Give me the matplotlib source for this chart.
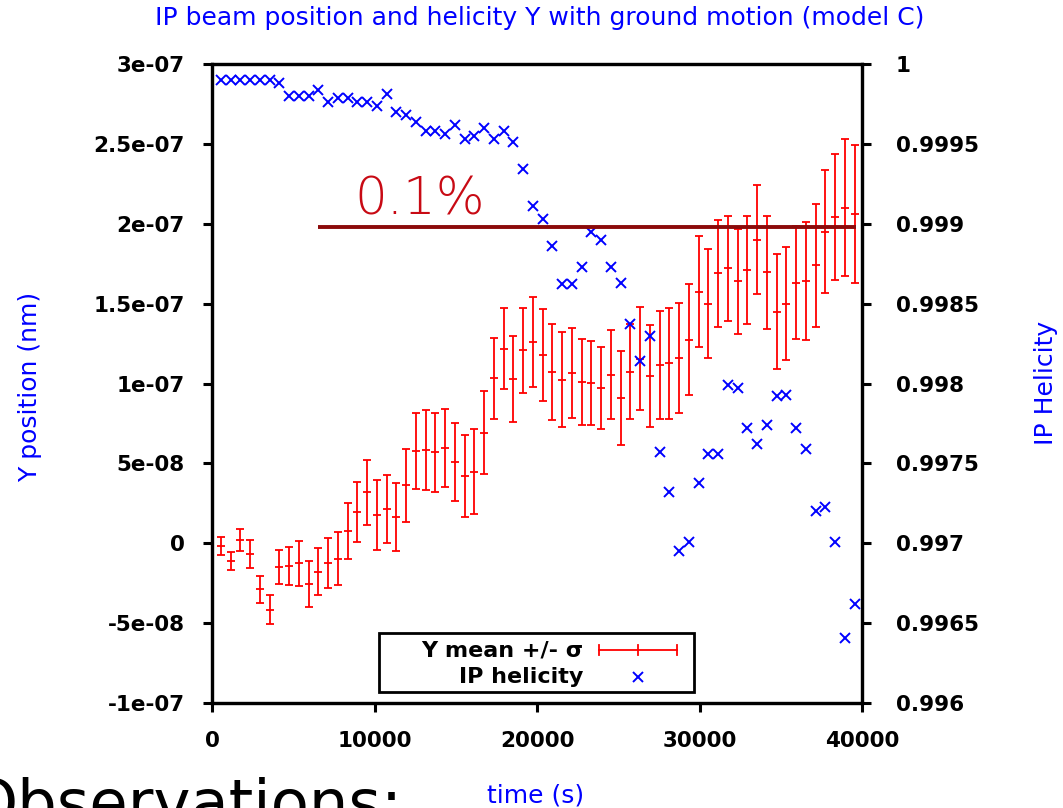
import matplotlib
matplotlib.use("Agg")
import matplotlib.pyplot as plt
import numpy as np
from matplotlib.lines import Line2D
from matplotlib.patches import Rectangle

# ---------------- data ----------------
time_s = [550, 1150, 1750, 2350, 2950, 3550, 4150, 4750, 5350, 5950,
          6550, 7150, 7750, 8350, 8950, 9550, 10150, 10750, 11350, 11950,
          12550, 13150, 13750, 14350, 14950, 15550, 16150, 16750, 17350, 17950,
          18550, 19150, 19750, 20350, 20950, 21550, 22150, 22750, 23350, 23950,
          24550, 25150, 25750, 26350, 26950, 27550, 28150, 28750, 29350, 29950,
          30550, 31150, 31750, 32350, 32950, 33550, 34150, 34750, 35350, 35950,
          36550, 37150, 37750, 38350, 38950, 39550]

# Y mean and sigma, in units of 1e-8 m
y_mean_e8 = [-0.15, -1.12, 0.21, -0.67, -2.88, -4.15, -1.48, -1.40, -1.25, -2.56,
             -1.77, -1.25, -0.98, 0.77, 1.96, 3.19, 1.77, 2.15, 1.63, 3.63,
             5.79, 5.83, 5.69, 5.96, 5.10, 4.21, 4.48, 6.92, 10.33, 12.19,
             10.27, 12.08, 12.60, 11.79, 10.71, 10.23, 10.65, 10.10, 10.02, 9.71,
             10.56, 9.10, 10.73, 11.55, 10.46, 11.15, 11.27, 11.60, 12.73, 15.75,
             15.00, 16.90, 17.20, 16.40, 17.10, 19.00, 16.96, 14.50, 15.00, 16.30,
             16.40, 17.40, 19.50, 20.40, 21.00, 20.60]
y_sigma_e8 = [0.57, 0.55, 0.69, 0.85, 0.86, 0.88, 1.08, 1.19, 1.41, 1.46,
              1.50, 1.57, 1.66, 1.75, 1.88, 2.03, 2.17, 2.14, 2.12, 2.28,
              2.39, 2.49, 2.47, 2.45, 2.45, 2.59, 2.65, 2.59, 2.53, 2.54,
              2.68, 2.67, 2.82, 2.88, 3.01, 2.98, 2.83, 2.71, 2.61, 2.56,
              2.80, 2.95, 2.97, 3.22, 3.20, 3.39, 3.48, 3.46, 3.47, 3.49,
              3.41, 3.35, 3.30, 3.30, 3.40, 3.40, 3.52, 3.61, 3.55, 3.53,
              3.68, 3.85, 3.85, 3.95, 4.30, 4.30]

helicity = [0.99990, 0.99990, 0.99990, 0.99990, 0.99990, 0.99990, 0.99988, 0.99980, 0.99980, 0.99980,
            0.99984, 0.99976, 0.99979, 0.99979, 0.99976, 0.99976, 0.99974, 0.99981, 0.99970, 0.99968,
            0.99964, 0.99958, 0.99958, 0.99956, 0.99962, 0.99953, 0.99955, 0.99960, 0.99953, 0.99958,
            0.99951, 0.99934, 0.99911, 0.99903, 0.99886, 0.99862, 0.99862, 0.99873, 0.99895, 0.99890,
            0.99873, 0.99863, 0.99837, 0.99814, 0.99830, 0.99757, 0.99732, 0.99695, 0.99701, 0.99738,
            0.99756, 0.99756, 0.99799, 0.99797, 0.99772, 0.99762, 0.99774, 0.99792, 0.99793, 0.99772,
            0.99759, 0.99720, 0.99723, 0.99701, 0.99641, 0.99662]

x_ticks = [0, 10000, 20000, 30000, 40000]
x_ticklabels = ["0", "10000", "20000", "30000", "40000"]
y_ticks = [-1e-7, -5e-8, 0, 5e-8, 1e-7, 1.5e-7, 2e-7, 2.5e-7, 3e-7]
y_ticklabels = ["-1e-07", "-5e-08", "0", "5e-08", "1e-07", "1.5e-07", "2e-07", "2.5e-07", "3e-07"]
h_ticks = [0.996, 0.9965, 0.997, 0.9975, 0.998, 0.9985, 0.999, 0.9995, 1.0]
h_ticklabels = ["0.996", "0.9965", "0.997", "0.9975", "0.998", "0.9985", "0.999", "0.9995", "1"]

threshold_line_x = [6500, 39600]
threshold_level = 0.99898

# ---------------- figure ----------------
W, H = 1063, 808
fig = plt.figure(figsize=(W / 100, H / 100), dpi=100)
ax = fig.add_axes([212 / W, 1 - 703 / H, (862 - 212) / W, (703 - 64) / H])
ax2 = ax.twinx()

t = np.array(time_s)
ym = np.array(y_mean_e8) * 1e-8
ys = np.array(y_sigma_e8) * 1e-8

ax.errorbar(t, ym, yerr=ys, fmt='_', color='#ff0000', ms=5.5, mew=1.3,
            elinewidth=1.3, capsize=3.0, capthick=1.3, zorder=3)
ax2.plot(t, helicity, linestyle='none', marker='x', color='#0000ff',
         ms=6.8, mew=1.4, zorder=3)

ax.set_xlim(0, 40000)
ax.set_ylim(-1e-7, 3e-7)
ax2.set_ylim(0.996, 1.0)

tick_font = dict(family='DejaVu Sans', weight='bold', size=15.5)
ax.set_xticks(x_ticks)
ax.set_xticklabels(x_ticklabels, **tick_font)
ax.set_yticks(y_ticks)
ax.set_yticklabels(y_ticklabels, **tick_font)
ax2.set_yticks(h_ticks)
ax2.set_yticklabels(h_ticklabels, **tick_font)

for a in (ax, ax2):
    for s in a.spines.values():
        s.set_linewidth(2.3)
        s.set_color('black')
ax.tick_params(axis='x', direction='out', length=6.5, width=2.2, pad=14)
ax.tick_params(axis='y', direction='out', length=6.5, width=2.2, pad=13)
ax2.tick_params(axis='y', direction='out', length=6.5, width=2.2, pad=18)

# threshold line and hand annotation
ax2.plot(threshold_line_x, [threshold_level, threshold_level], color='#8b0a0a',
         lw=2.8, solid_capstyle='butt', zorder=5)
ax2.text(12800, 0.99915, "0.1%", color='#c80a14', fontsize=37,
         fontweight='light', ha='center', va='center', zorder=6)

# titles / labels
label_kw = dict(color='#0000ff', fontsize=18, ha='center', va='center')
fig.text(540 / W, 1 - 18 / H, "IP beam position and helicity Y with ground motion (model C)",
         **label_kw)
fig.text(30 / W, 1 - 387 / H, "Y position (nm)", rotation=90, **label_kw)
fig.text(1046 / W, 1 - 383 / H, "IP Helicity", rotation=90, **label_kw)
fig.text(536 / W, 1 - 795 / H, "time (s)", **label_kw)
fig.text(-32 / W, -16 / H, "Observations:", color='black', fontsize=45,
         ha='left', va='baseline')

# legend (drawn manually, gnuplot style)
def fx(px):
    return (px - 212) / 650.0
def fy(py):
    return (703 - py) / 639.0

ax2.add_patch(Rectangle((fx(379), fy(692)), fx(694) - fx(379), fy(633) - fy(692),
                        transform=ax2.transAxes, fill=True, facecolor='white',
                        edgecolor='black', lw=2.0, zorder=7))
leg_font = dict(family='DejaVu Sans', weight='bold', size=16)
ax2.text(fx(583), fy(651), "Y mean +/- \u03c3", transform=ax2.transAxes,
         ha='right', va='center', zorder=8, **leg_font)
ax2.text(fx(583), fy(677), "IP helicity", transform=ax2.transAxes,
         ha='right', va='center', zorder=8, **leg_font)
ax2.add_line(Line2D([fx(599), fx(677)], [fy(650), fy(650)], transform=ax2.transAxes,
                    color='#ff0000', lw=1.3, zorder=8))
for xp in (599, 638, 677):
    ax2.add_line(Line2D([fx(xp), fx(xp)], [fy(645), fy(655)], transform=ax2.transAxes,
                        color='#ff0000', lw=1.3, zorder=8))
ax2.add_line(Line2D([fx(638)], [fy(677)], transform=ax2.transAxes, marker='x',
                    color='#0000ff', ms=6.8, mew=1.4, linestyle='none', zorder=8))

fig.savefig("out.png", dpi=100)
